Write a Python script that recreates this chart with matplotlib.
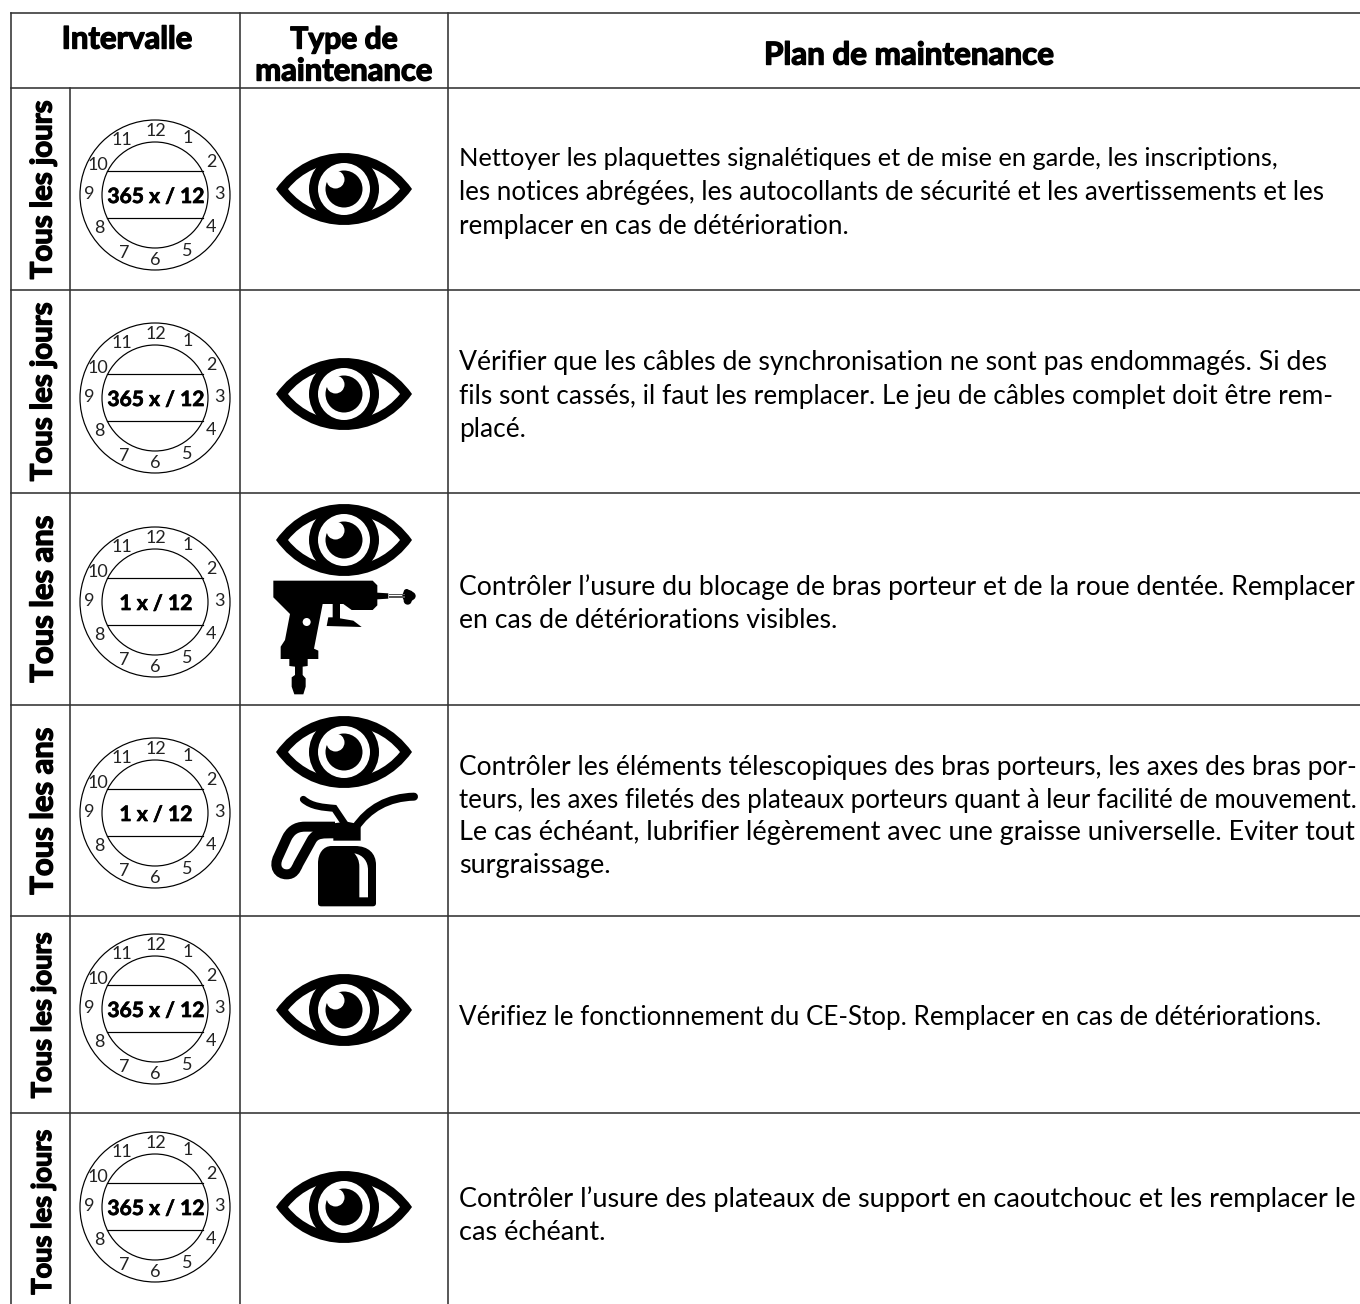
"""Maintenance plan table drawn in pixel coordinates."""
import matplotlib

matplotlib.use("Agg")

import matplotlib.patheffects as pe
import matplotlib.pyplot as plt
from matplotlib.patches import Circle, PathPatch, Polygon
from matplotlib.path import Path

W, H = 1360, 1304
FONT = "Lato"
INK = "#000000"
RULE = "#333333"

# table layout
COL_X = [11, 70, 240, 448]
ROW_Y = [13, 88, 290, 493, 705, 916, 1113, 1304]

HEADERS = [
    ("Intervalle", 127, 37, 131),
    ("Type de", 344, 37, 108),
    ("maintenance", 344, 69, 178),
    ("Plan de maintenance", 909, 53, 291),
]

INTERVALS = ["Tous les jours", "Tous les jours", "Tous les ans", "Tous les ans", "Tous les jours", "Tous les jours"]
INTERVAL_SPAN = [(100, 280), (302, 482), (515, 683), (727, 895), (932, 1099), (1129, 1295)]
COUNTS = ["365 x / 12", "365 x / 12", "1 x / 12", "1 x / 12", "365 x / 12", "365 x / 12"]
CLOCK_Y = [195, 398, 602, 813, 1009, 1207]
EYE_Y = [189, 394, 540, 752, 1010, 1207]

# text, vertical position, right end of the line (None keeps the size of the line above)
BODY = [
    [("Nettoyer les plaquettes signalétiques et de mise en garde, les inscriptions,", 156, 1281),
     ("les notices abrégées, les autocollants de sécurité et les avertissements et les", 190, 1324),
     ("remplacer en cas de détérioration.", 224, None)],
    [("Vérifier que les câbles de synchronisation ne sont pas endommagés. Si des", 360, 1332),
     ("fils sont cassés, il faut les remplacer. Le jeu de câbles complet doit être rem-", 394, 1328),
     ("placé.", 427, None)],
    [("Contrôler l’usure du blocage de bras porteur et de la roue dentée. Remplacer", 585, 1360),
     ("en cas de détériorations visibles.", 618, None)],
    [("Contrôler les éléments télescopiques des bras porteurs, les axes des bras por-", 765, 1358),
     ("teurs, les axes filetés des plateaux porteurs quant à leur facilité de mouvement.", 798, 1358),
     ("Le cas échéant, lubrifier légèrement avec une graisse universelle. Eviter tout", 830, 1360),
     ("surgraissage.", 863, None)],
    [("Vérifiez le fonctionnement du CE-Stop. Remplacer en cas de détériorations.", 1015, 1322)],
    [("Contrôler l’usure des plateaux de support en caoutchouc et les remplacer le", 1197, 1360),
     ("cas échéant.", 1230, None)],
]

HOURS = ["12", "1", "2", "3", "4", "5", "6", "7", "8", "9", "10", "11"]
HOUR_DX = [1, 33, 56, 64, 56, 32, 0, -31, -56, -66, -57, -33]
HOUR_DY = [-64, -57, -33, -1, 32, 56, 65, 58, 33, -1, -30, -55]

# gun outline in 3x crop pixels, see crop()
GUN = [(100, 272), (398, 272), (412, 286), (412, 308), (445, 310), (445, 326), (412, 328), (412, 346),
       (398, 360), (335, 360), (310, 342), (300, 342), (300, 385), (340, 392), (365, 411), (260, 408),
       (265, 382), (278, 382), (278, 342), (248, 342), (222, 476), (235, 482), (235, 507), (203, 507),
       (203, 528), (188, 530), (188, 555), (197, 565), (197, 590), (190, 613), (163, 613), (155, 590),
       (155, 562), (165, 555), (165, 530), (148, 528), (148, 507), (122, 507), (122, 470), (135, 450),
       (150, 372), (100, 322)]
SPRAY_Y = [312, 317, 322]


def px(v):
    return v * 72 / 100


fig = plt.figure(figsize=(W / 100, H / 100), dpi=100)
ax = fig.add_axes([0, 0, 1, 1])
ax.set_xlim(0, W)
ax.set_ylim(H, 0)
ax.axis("off")
renderer = fig.canvas.get_renderer()


def fit_text(x, y, s, width, weight="normal", ha="left", rotation=0, size=16, heavy=0):
    t = ax.text(x, y, s, family=FONT, weight=weight, fontsize=size, ha=ha, va="center_baseline",
                color=INK, rotation_mode="anchor", clip_on=True)
    if width is not None:
        t.set_fontsize(size * width / t.get_window_extent(renderer).width)
    t.set_rotation(rotation)
    if heavy:
        t.set_path_effects([pe.withStroke(linewidth=heavy, foreground=INK)])
    return t


def draw_eye(cx, cy):
    def lens(a, c, h):
        verts = [(cx - a, cy), (cx - c, cy - h), (cx + c, cy - h), (cx + a, cy),
                 (cx + c, cy + h), (cx - c, cy + h), (cx - a, cy), (cx - a, cy)]
        codes = [Path.MOVETO, Path.CURVE4, Path.CURVE4, Path.CURVE4, Path.CURVE4, Path.CURVE4, Path.CURVE4, Path.CLOSEPOLY]
        return Path(verts, codes)

    outer = PathPatch(lens(68, 34, 48), fc=INK, ec="none")
    ax.add_patch(outer)
    ax.add_patch(PathPatch(lens(56, 28, 35), fc="white", ec="none"))
    ring = Circle((cx, cy), 35, fc=INK, ec="none")
    ax.add_patch(ring)
    ring.set_clip_path(outer)
    ax.add_patch(Circle((cx, cy), 26, fc="white", ec="none"))
    ax.add_patch(Circle((cx, cy), 18.5, fc=INK, ec="none"))
    ax.add_patch(Circle((cx - 8.5, cy - 9.5), 9, fc="white", ec="none"))


def draw_clock(cy, label):
    cx = 155
    ax.add_patch(Circle((cx, cy), 75, fc="white", ec=INK, lw=px(1.2)))
    ax.add_patch(Circle((cx, cy), 53, fc="white", ec=INK, lw=px(1.2)))
    ax.plot([cx - 48, cx + 48], [cy - 24, cy - 24], color=INK, lw=px(1.2))
    ax.plot([cx - 48, cx + 48], [cy + 23, cy + 23], color=INK, lw=px(1.2))
    for h, dx, dy in zip(HOURS, HOUR_DX, HOUR_DY):
        ax.text(cx + dx, cy + dy, h, family=FONT, fontsize=13, ha="center", va="center", color="#222222")
    width = 97 if len(label) > 8 else 73
    fit_text(cx + 1, cy, label, width, weight="bold", ha="center", heavy=0.5)


def crop(x, y):
    return 240 + x / 3, 490 + y / 3


def draw_gun():
    ax.add_patch(Polygon([crop(*p) for p in GUN], closed=True, fc=INK, ec="none"))
    ax.add_patch(Circle(crop(200, 396), 4, fc="white", ec="none"))
    for sy in SPRAY_Y:
        ax.plot(*zip(crop(448, sy), crop(492, sy)), color="#555555", lw=px(1))
    for c, r in [((505, 318), 6), ((500, 306), 3), ((503, 332), 4), ((515, 318), 4)]:
        ax.add_patch(Circle(crop(*c), r, fc=INK, ec="none"))


def draw_can():
    m, c, l, z = Path.MOVETO, Path.CURVE4, Path.LINETO, Path.CLOSEPOLY
    body = [((234, 1120), m), ((234, 1090), c), ((250, 1068), c), ((275, 1068), c), ((345, 1068), l),
            ((385, 1068), c), ((408, 1090), c), ((408, 1125), c), ((408, 1240), l), ((408, 1246), c),
            ((404, 1249), c), ((398, 1249), c), ((244, 1249), l), ((238, 1249), c), ((234, 1246), c),
            ((234, 1240), c), ((234, 1120), l), ((234, 1120), z)]
    ax.add_patch(PathPatch(Path([crop(*p) for p, _ in body], [k for _, k in body]), fc=INK, ec="none"))
    slit = [((343, 1090), m), ((370, 1095), c), ((384, 1115), c), ((384, 1140), c), ((384, 1222), l),
            ((358, 1222), l), ((358, 1130), l), ((358, 1112), c), ((352, 1100), c), ((343, 1090), c), ((343, 1090), z)]
    ax.add_patch(PathPatch(Path([crop(*p) for p, _ in slit], [k for _, k in slit]), fc="white", ec="none"))
    collar = [(280, 1052), (362, 1052), (362, 1012), (345, 1000), (320, 995), (280, 1000)]
    ax.add_patch(Polygon([crop(*p) for p in collar], closed=True, fc=INK, ec="none"))
    handle = [((285, 1010), m), ((195, 1010), l), ((165, 1010), c), ((150, 1025), c), ((140, 1045), c),
              ((115, 1100), l), ((100, 1130), c), ((115, 1153), c), ((140, 1153), c), ((160, 1153), c),
              ((167, 1140), c), ((175, 1122), c), ((215, 1050), l), ((228, 1028), c), ((250, 1030), c), ((285, 1030), c)]
    ax.add_patch(PathPatch(Path([crop(*p) for p, _ in handle], [k for _, k in handle]), fc="none", ec=INK,
                           lw=px(10), capstyle="butt"))
    right = [((345, 1015), m), ((385, 955), c), ((445, 922), c), ((522, 920), c)]
    ax.add_patch(PathPatch(Path([crop(*p) for p, _ in right], [k for _, k in right]), fc="none", ec=INK,
                           lw=px(8), capstyle="round"))
    left = [((320, 1010), m), ((283, 955), l), ((250, 952), c), ((215, 950), c), ((190, 928), c)]
    ax.add_patch(PathPatch(Path([crop(*p) for p, _ in left], [k for _, k in left]), fc="none", ec=INK,
                           lw=px(7), capstyle="round"))


for s, x, y, w in HEADERS:
    fit_text(x, y, s, w, weight="bold", ha="center", heavy=1.0)

for label, span, count, cy, ey, lines in zip(INTERVALS, INTERVAL_SPAN, COUNTS, CLOCK_Y, EYE_Y, BODY):
    fit_text(41, (span[0] + span[1]) / 2, label, span[1] - span[0], weight="bold", ha="center", rotation=90, heavy=1.0)
    draw_clock(cy, count)
    draw_eye(344, ey)
    size = 16
    for s, y, right in lines:
        t = fit_text(459, y, s, None if right is None else right - 459, size=size)
        size = t.get_fontsize()

draw_gun()
draw_can()

# table rules
lw = px(1.6)
for y in ROW_Y[:7]:
    ax.plot([COL_X[0], W], [y, y], color=RULE, lw=lw)
ax.plot([COL_X[0], COL_X[0]], [ROW_Y[0], H], color=RULE, lw=lw)
ax.plot([COL_X[1], COL_X[1]], [ROW_Y[1], H], color=RULE, lw=lw)
for x in COL_X[2:]:
    ax.plot([x, x], [ROW_Y[0], H], color=RULE, lw=lw)

fig.savefig("out.png", dpi=100, facecolor="white")
